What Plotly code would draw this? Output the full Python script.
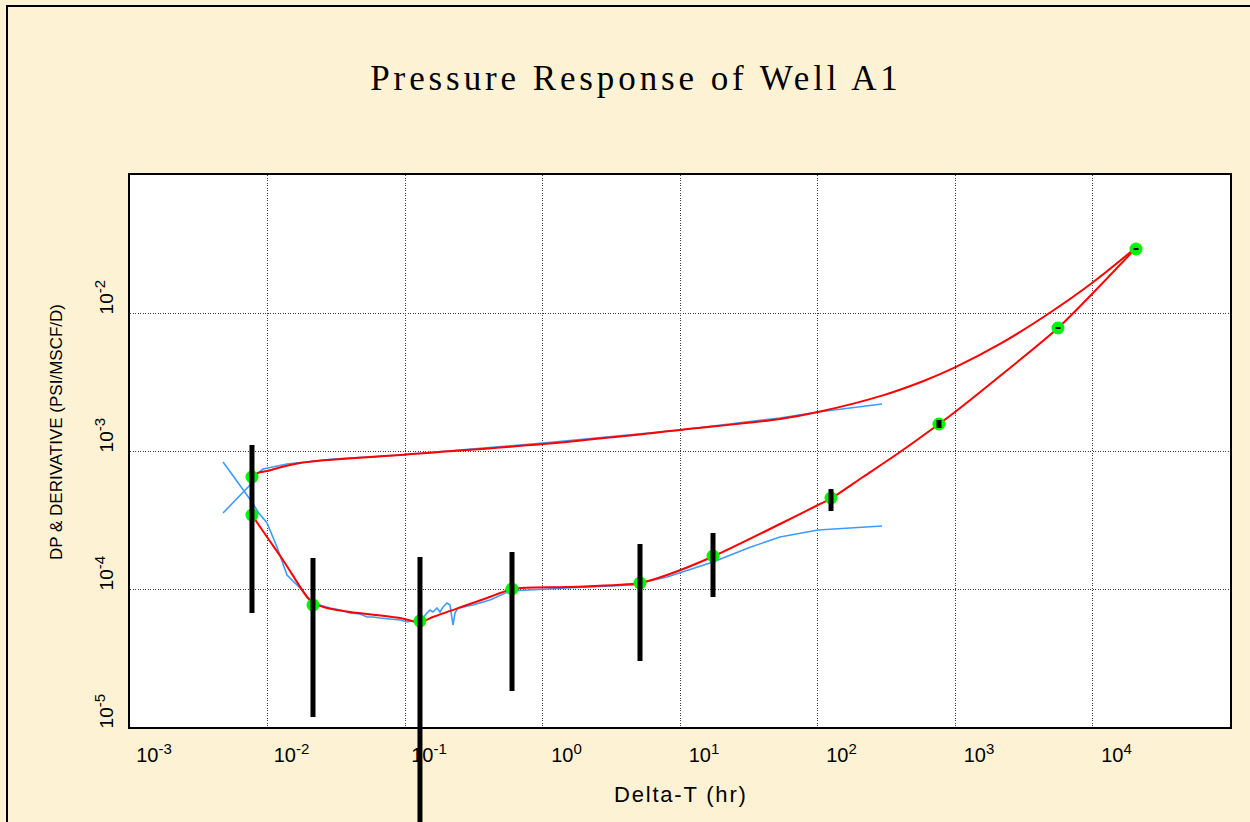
import math
import plotly.graph_objects as go

# ---------------- data ----------------
# Pressure data (blue, upper)
press_data_t = [0.00475, 0.00771, 0.00853, 0.00928, 0.01386, 0.02995, 0.09197,
                1.008, 10.0, 53.38, 100.8, 294.5]
press_data_v = [3.553e-4, 5.863e-4, 6.929e-4, 7.406e-4, 8.051e-4, 8.750e-4, 9.354e-4,
                1.143e-3, 1.420e-3, 1.734e-3, 1.917e-3, 2.191e-3]

# Derivative data (blue, lower)
deriv_data_t = [0.00475, 0.00771, 0.00853, 0.00992, 0.01172, 0.01386, 0.01723, 0.02142,
                0.02848, 0.03368, 0.03981, 0.04707, 0.05291, 0.05852, 0.06579, 0.07780,
                0.09197, 0.1034, 0.1124, 0.1223, 0.1352, 0.1445, 0.1520, 0.1598,
                0.1709, 0.1797, 0.1889, 0.2021, 0.2124, 0.2234, 0.2310, 0.2429,
                0.2641, 0.3122, 0.4151, 0.5802, 1.507, 4.551, 5.118, 8.045,
                17.38, 32.0, 53.38, 100.8, 294.5]
deriv_data_v = [8.325e-4, 4.269e-4, 3.614e-4, 3.008e-4, 2.015e-4, 1.263e-4, 1.017e-4, 7.916e-5,
                7.283e-5, 7.045e-5, 6.700e-5, 6.589e-5, 6.270e-5, 6.270e-5, 6.165e-5, 6.063e-5,
                5.963e-5, 5.767e-5, 5.863e-5, 5.671e-5, 6.165e-5, 6.700e-5, 7.045e-5, 6.813e-5,
                7.283e-5, 6.813e-5, 7.406e-5, 7.916e-5, 7.655e-5, 5.484e-5, 6.700e-5, 7.283e-5,
                7.406e-5, 7.655e-5, 8.325e-5, 9.672e-5, 1.017e-4, 1.069e-4, 1.105e-4, 1.222e-4,
                1.569e-4, 2.000e-4, 2.381e-4, 2.676e-4, 2.861e-4]

# Pressure model (red, upper)
press_model_t = [0.00771, 0.00853, 0.00992, 0.01723, 0.09197, 1.008, 10.0, 53.38,
                 100.8, 294.5, 585.2, 1000, 2125, 4513, 9917, 20720]
press_model_v = [6.481e-4, 6.929e-4, 7.164e-4, 8.185e-4, 9.354e-4, 1.124e-3, 1.420e-3, 1.706e-3,
                 1.917e-3, 2.520e-3, 3.204e-3, 4.035e-3, 5.963e-3, 9.513e-3, 1.650e-2, 2.983e-2]

# Derivative model (red, lower)
deriv_model_t = [0.00771, 0.00992, 0.01296, 0.01938, 0.02142, 0.02708, 0.03981, 0.09197,
                 0.1285, 0.1598, 0.2824, 0.3948, 0.6103, 1.507, 5.118, 8.045,
                 17.38, 53.38, 100.8, 125.4, 214.2, 398.1, 764.9, 1000,
                 2125, 5612, 9917, 20720]
deriv_model_v = [3.437e-4, 2.381e-4, 1.622e-4, 8.750e-5, 7.916e-5, 7.283e-5, 6.813e-5, 6.165e-5,
                 5.767e-5, 6.270e-5, 7.655e-5, 8.605e-5, 1.0e-4, 1.034e-4, 1.105e-4, 1.263e-4,
                 1.720e-4, 2.958e-4, 4.061e-4, 4.527e-4, 6.481e-4, 9.835e-4, 1.569e-3, 1.917e-3,
                 3.495e-3, 7.784e-3, 1.373e-2, 2.958e-2]

# Derivative sample points with uncertainty bounds
pts_t = [0.00771, 0.02142, 0.1285, 0.6001, 5.118, 17.38, 125.4, 764.9, 5612, 20720]
pts_v = [3.437e-4, 7.655e-5, 5.863e-5, 1.0e-4, 1.105e-4, 1.734e-4, 4.564e-4, 1.569e-3, 7.784e-3, 2.909e-2]
pts_hi = [1.105e-3, 1.677e-4, 1.705e-4, 1.854e-4, 2.119e-4, 2.545e-4, 5.303e-4, 1.677e-3, 7.916e-3, 2.958e-2]
pts_lo = [6.700e-5, 1.182e-5, 1.26e-6, 1.824e-5, 3.008e-5, 8.750e-5, 3.674e-4, 1.468e-3, 7.655e-3, 2.861e-2]

# Pressure sample point
ppt_t = [0.00771]
ppt_v = [6.481e-4]

x_tickvals = [1e-3, 1e-2, 1e-1, 1e0, 1e1, 1e2, 1e3, 1e4]
x_exponents = ["-3", "-2", "-1", "0", "1", "2", "3", "4"]
y_tickvals = [1e-5, 1e-4, 1e-3, 1e-2]
y_exponents = ["-5", "-4", "-3", "-2"]

title_text = "Pressure Response of Well A1"
x_title = "Delta-T (hr)"
y_title = "DP & DERIVATIVE (PSI/MSCF/D)"

X_RANGE = [-3, 5]
Y_RANGE = [-5, -1]


def power_label(e):
    return "10<sup><span style='font-size:15px'>" + e + "</span></sup>"


# ---------------- figure ----------------
BLUE = "#3D9BFF"
RED = "#FF0000"
GREEN = "#00F400"
GRID_DASH = "1px,1.5px"

fig = go.Figure()
fig.add_trace(go.Scatter(x=press_data_t, y=press_data_v, mode="lines",
                         line=dict(color=BLUE, width=1.6), hoverinfo="skip"))
fig.add_trace(go.Scatter(x=deriv_data_t, y=deriv_data_v, mode="lines",
                         line=dict(color=BLUE, width=1.6), hoverinfo="skip"))
fig.add_trace(go.Scatter(x=press_model_t, y=press_model_v, mode="lines",
                         line=dict(color=RED, width=2, shape="spline", smoothing=1.0),
                         hoverinfo="skip"))
fig.add_trace(go.Scatter(x=deriv_model_t, y=deriv_model_v, mode="lines",
                         line=dict(color=RED, width=2, shape="spline", smoothing=0.8),
                         hoverinfo="skip"))
fig.add_trace(go.Scatter(x=pts_t + ppt_t, y=pts_v + ppt_v, mode="markers",
                         marker=dict(color=GREEN, size=13, line=dict(width=0)),
                         hoverinfo="skip"))
fig.add_trace(go.Scatter(
    x=pts_t, y=pts_v, mode="markers",
    marker=dict(size=1, opacity=0),
    error_y=dict(type="data", symmetric=False,
                 array=[h - v for h, v in zip(pts_hi, pts_v)],
                 arrayminus=[v - l for v, l in zip(pts_v, pts_lo)],
                 color="black", thickness=5, width=0),
    cliponaxis=False, hoverinfo="skip"))

# error bars that run past the bottom of the axes continue outside the plot area
shapes = [dict(type="rect", xref="paper", yref="paper",
               x0=(7 - 130) / 1100, x1=(1265 - 130) / 1100,
               y0=(727 - 840) / 552, y1=(727 - 6) / 552,
               line=dict(color="black", width=2), fillcolor="rgba(0,0,0,0)",
               layer="below")]
for t, lo in zip(pts_t, pts_lo):
    llo = math.log10(lo)
    if llo < Y_RANGE[0]:
        shapes.append(dict(type="line", xref="x", yref="y domain",
                           x0=t, x1=t, y0=0,
                           y1=(llo - Y_RANGE[0]) / (Y_RANGE[1] - Y_RANGE[0]),
                           line=dict(color="black", width=5), layer="above"))

fig.update_xaxes(type="log", range=X_RANGE, tickmode="array",
                 tickvals=x_tickvals, ticktext=[power_label(e) for e in x_exponents],
                 showgrid=True, gridcolor="#3A3A3A", griddash=GRID_DASH, gridwidth=1,
                 showline=True, linecolor="black", linewidth=2, mirror=True,
                 zeroline=False, ticks="",
                 tickfont=dict(family="Liberation Sans, Arial", size=20, color="black"),
                 ticklabelshift=24, ticklabelstandoff=9)
fig.update_yaxes(type="log", range=Y_RANGE, tickmode="array",
                 tickvals=y_tickvals, ticktext=[power_label(e) for e in y_exponents],
                 tickangle=-90,
                 showgrid=True, gridcolor="#3A3A3A", griddash=GRID_DASH, gridwidth=1,
                 showline=True, linecolor="black", linewidth=2, mirror=True,
                 zeroline=False, ticks="",
                 tickfont=dict(family="Liberation Sans, Arial", size=19, color="black"),
                 ticklabelshift=-13, ticklabelstandoff=7)

fig.update_layout(
    width=1250, height=822,
    margin=dict(l=130, r=20, t=175, b=95),
    paper_bgcolor="#FDF3D4", plot_bgcolor="white",
    showlegend=False,
    title=dict(text='<span style="letter-spacing:3.9px">' + title_text + '</span>',
               x=636 / 1250, xref="container", xanchor="center",
               y=1 - 78 / 822, yref="container", yanchor="middle",
               font=dict(family="Liberation Serif, Times New Roman", size=35, color="black")),
    annotations=[
        dict(text='<span style="letter-spacing:1.8px">' + x_title + '</span>',
             x=(681 - 130) / 1100, y=(727 - 794) / 552,
             xref="paper", yref="paper", xanchor="center", yanchor="middle",
             showarrow=False,
             font=dict(family="Liberation Sans, Arial", size=22, color="black")),
        dict(text=y_title, textangle=-90,
             x=(56 - 130) / 1100, y=(727 - 432) / 552,
             xref="paper", yref="paper", xanchor="center", yanchor="middle",
             showarrow=False,
             font=dict(family="Liberation Sans, Arial", size=17, color="black")),
    ],
    shapes=shapes,
)

fig.write_html("out.html")
